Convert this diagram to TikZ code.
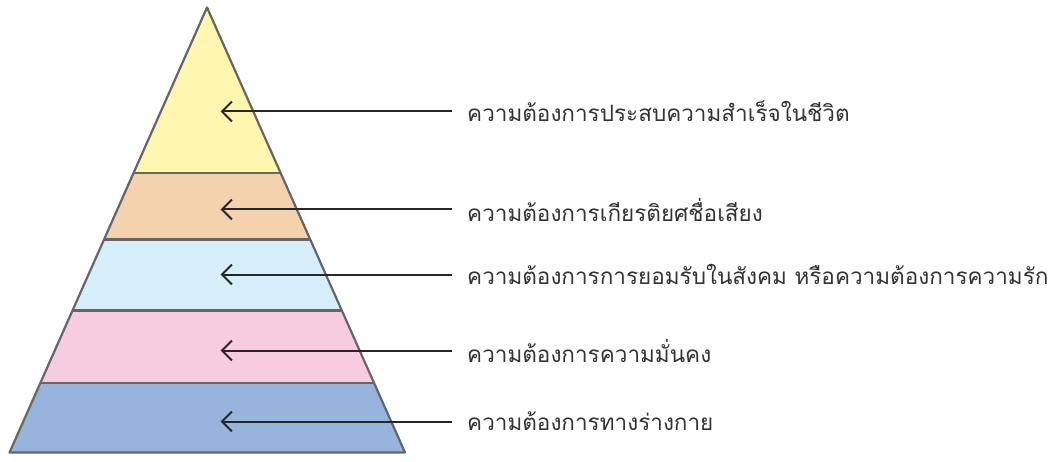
\documentclass[tikz,border=0pt]{standalone}
\usepackage{fontspec}
\newfontfamily\thaifont[Script=Thai]{Loma}
\usetikzlibrary{arrows.meta}
\definecolor{lyellow}{HTML}{FFF6B0}
\definecolor{lpeach}{HTML}{F5D2AE}
\definecolor{lblue}{HTML}{D6EDFA}
\definecolor{lpink}{HTML}{F8CCE0}
\definecolor{lsteel}{HTML}{96B4DC}
\definecolor{edgegray}{HTML}{666666}
\begin{document}
\begin{tikzpicture}[x=1pt,y=-1pt,
  layer/.style={draw=edgegray,line width=2.2pt,line join=round},
  pointer/.style={draw=black!85,line width=2pt,-{Straight Barb[length=10pt,width=20pt,line width=2pt]}},
  label/.style={anchor=west,inner sep=0pt,font=\thaifont\fontsize{22.5}{26}\selectfont,text=black!80}]
\useasboundingbox (0,0) rectangle (1059,462);
% pyramid geometry: apex (207,7.5), base y=452.5 from 9.5 to 405
\pgfmathsetmacro{\hl}{(207-9.5)/(452.5-7.5)}
\foreach \ya/\yb/\c in {7.5/173/lyellow,173/239.5/lpeach,239.5/310.5/lblue,310.5/383/lpink,383/452.5/lsteel}{
  \pgfmathsetmacro{\wa}{(\ya-7.5)*\hl}
  \pgfmathsetmacro{\wb}{(\yb-7.5)*\hl}
  \fill[\c] (207-\wa,\ya) -- (207+\wa,\ya) -- (207+\wb,\yb) -- (207-\wb,\yb) -- cycle;
}
\foreach \y in {173,239.5,310.5,383}{
  \pgfmathsetmacro{\w}{(\y-7.5)*\hl}
  \draw[layer] (207-\w,\y) -- (207+\w,\y);
}
\draw[layer] (207,7.5) -- (405,452.5) -- (9.5,452.5) -- cycle;
% labels
\node[label] (t1) at (467,111.5) {ความต้องการประสบความสำเร็จในชีวิต};
\node[label] (t2) at (467,209.5) {ความต้องการเกียรติยศชื่อเสียง};
\node[label] (t3) at (467,274.5) {ความต้องการการยอมรับในสังคม หรือความต้องการความรัก};
\node[label] (t4) at (467,350.5) {ความต้องการความมั่นคง};
\node[label] (t5) at (467,421.5) {ความต้องการทางร่างกาย};
\coordinate (p1) at (220.5,111.5);
\coordinate (p2) at (220.5,209.5);
\coordinate (p3) at (220.5,274.5);
\coordinate (p4) at (220.5,350.5);
\coordinate (p5) at (220.5,421.5);
\foreach \i in {1,...,5}{
  \draw[pointer] (t\i.west) ++(-15,0) -- (p\i);
}
\end{tikzpicture}
\end{document}
